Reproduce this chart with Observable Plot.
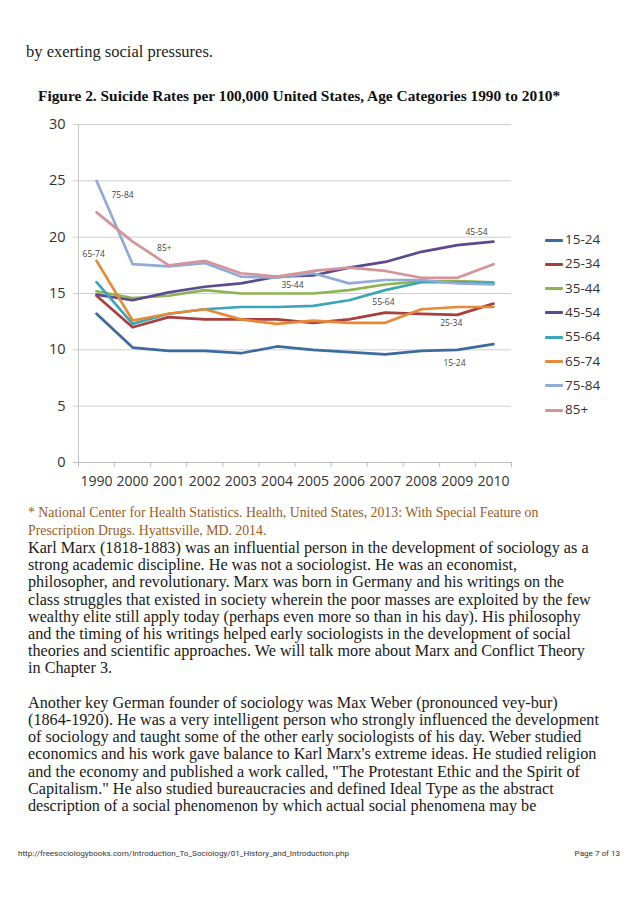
<!DOCTYPE html>
<html>
<head>
<meta charset="utf-8">
<script src="https://cdn.jsdelivr.net/npm/d3@7"></script>
<script src="https://cdn.jsdelivr.net/npm/@observablehq/plot@0.6"></script>
<style>
  html, body { margin: 0; padding: 0; background: #fff; }
  body { width: 638px; height: 903px; position: relative; overflow: hidden; }
  .serif { font-family: "Liberation Serif", "Times New Roman", serif; position: absolute; white-space: pre; color: #222; }
  .lead { left: 26px; top: 42px; font-size: 16.5px; }
  .title { left: 38px; top: 87px; font-size: 15.4px; font-weight: bold; color: #111; }
  .cap { left: 28px; font-size: 13.8px; color: #9a5c1c; }
  .body { left: 28px; font-size: 16.2px; color: #1a1a1a; }
  #chart { position: absolute; left: 30px; top: 110px; }
  #legend { position: absolute; left: 545px; top: 228px; font-family: "Open Sans", sans-serif; font-size: 13.5px; color: #333; }
  .li { position: absolute; left: 0; height: 24px; width: 80px; }
  .li span.sw { position: absolute; left: 0; top: 10.5px; width: 18px; height: 3px; border-radius: 1px; }
  .li span.tx { position: absolute; left: 20px; top: 2px; }
  .footer { position: absolute; font-family: Roboto, "Liberation Sans", sans-serif; font-size: 8.1px; color: #333; top: 848px; }
</style>
</head>
<body>
<div class="serif lead">by exerting social pressures.</div>
<div class="serif title">Figure 2. Suicide Rates per 100,000 United States, Age Categories 1990 to 2010*</div>
<div id="chart"></div>
<div id="legend"></div>
<div id="text"></div>
<div class="footer" style="left:18px">http://freesociologybooks.com/Introduction_To_Sociology/01_History_and_Introduction.php</div>
<div class="footer" style="right:18px">Page 7 of 13</div>
<script>
// ---- data ----
const years = ["1990","2000","2001","2002","2003","2004","2005","2006","2007","2008","2009","2010"];
const seriesNames = ["15-24","25-34","35-44","45-54","55-64","65-74","75-84","85+"];
const rate15_24 = [13.2, 10.2, 9.9, 9.9, 9.7, 10.3, 10.0, 9.8, 9.6, 9.9, 10.0, 10.5];
const rate25_34 = [14.8, 12.0, 12.9, 12.7, 12.7, 12.7, 12.4, 12.7, 13.3, 13.2, 13.1, 14.1];
const rate35_44 = [15.2, 14.6, 14.8, 15.3, 15.0, 15.0, 15.0, 15.3, 15.8, 16.1, 16.1, 16.0];
const rate45_54 = [14.9, 14.4, 15.1, 15.6, 15.9, 16.5, 16.6, 17.3, 17.8, 18.7, 19.3, 19.6];
const rate55_64 = [16.0, 12.3, 13.2, 13.6, 13.8, 13.8, 13.9, 14.4, 15.3, 16.0, 16.0, 15.9];
const rate65_74 = [17.9, 12.6, 13.2, 13.6, 12.7, 12.3, 12.6, 12.4, 12.4, 13.6, 13.8, 13.8];
const rate75_84 = [25.0, 17.6, 17.4, 17.7, 16.5, 16.4, 16.8, 15.9, 16.2, 16.2, 15.9, 15.8];
const rate85plus = [22.2, 19.6, 17.5, 17.9, 16.8, 16.5, 17.0, 17.3, 17.0, 16.4, 16.4, 17.6];
const colors = ["#3e6b9f","#a8403e","#8db450","#5b4a8f","#3ba5ba","#e68a38","#90abd5","#d4949a"];
const yTicks = [0, 5, 10, 15, 20, 25, 30];
// in-chart series labels (year index, rate)
const annoText = ["75-84","85+","65-74","45-54","35-44","55-64","25-34","15-24"];
const annoX = [0.72, 1.88, -0.08, 10.53, 5.43, 7.95, 9.83, 9.92];
const annoY = [23.7, 19.0, 18.45, 20.4, 15.7, 14.2, 12.4, 8.8];

const captionLines = [
  "* National Center for Health Statistics. Health, United States, 2013: With Special Feature on",
  "Prescription Drugs. Hyattsville, MD. 2014."
];
const bodyLines = [
  "Karl Marx (1818-1883) was an influential person in the development of sociology as a",
  "strong academic discipline. He was not a sociologist. He was an economist,",
  "philosopher, and revolutionary. Marx was born in Germany and his writings on the",
  "class struggles that existed in society wherein the poor masses are exploited by the few",
  "wealthy elite still apply today (perhaps even more so than in his day). His philosophy",
  "and the timing of his writings helped early sociologists in the development of social",
  "theories and scientific approaches. We will talk more about Marx and Conflict Theory",
  "in Chapter 3.",
  "",
  "Another key German founder of sociology was Max Weber (pronounced vey-bur)",
  "(1864-1920). He was a very intelligent person who strongly influenced the development",
  "of sociology and taught some of the other early sociologists of his day. Weber studied",
  "economics and his work gave balance to Karl Marx's extreme ideas. He studied religion",
  "and the economy and published a work called, \"The Protestant Ethic and the Spirit of",
  "Capitalism.\" He also studied bureaucracies and defined Ideal Type as the abstract",
  "description of a social phenomenon by which actual social phenomena may be"
];

// ---- build table ----
const allSeries = [rate15_24, rate25_34, rate35_44, rate45_54, rate55_64, rate65_74, rate75_84, rate85plus];
const rows = [];
allSeries.forEach((vals, s) => vals.forEach((v, i) => rows.push({series: seriesNames[s], i, v})));
const annos = annoText.map((t, k) => ({t, x: annoX[k], y: annoY[k]}));
const idx = years.map((_, i) => i);
const bounds = d3.range(years.length + 1).map(i => i - 0.5);

const chart = Plot.plot({
  width: 484,
  height: 382,
  marginLeft: 48,
  marginRight: 3,
  marginTop: 14,
  marginBottom: 30,
  style: {fontFamily: "'Open Sans', sans-serif", background: "transparent", overflow: "visible"},
  x: {type: "linear", domain: [-0.5, years.length - 0.5], axis: null},
  y: {domain: [0, 30], axis: null},
  color: {domain: seriesNames, range: colors},
  marks: [
    Plot.gridY(yTicks.filter(t => t > 0), {stroke: "#cfcfcf", strokeOpacity: 1, x1: -0.5, x2: years.length - 0.5, insetLeft: -5}),
    Plot.axisY(yTicks, {tickSize: 0, tickPadding: 13, fontSize: 14.5, fill: "#333", tickFormat: d => String(d)}),
    Plot.ruleX([-0.5], {stroke: "#c8c8c8"}),
    Plot.ruleY([0], {stroke: "#bdbdbd", insetLeft: -5}),
    Plot.axisX(bounds, {tickSize: 5, stroke: "#bdbdbd", tickFormat: () => ""}),
    Plot.axisX(idx, {tickSize: 0, tickPadding: 14, fontSize: 14, fill: "#333", tickFormat: i => years[i]}),
    Plot.line(rows, {x: "i", y: "v", z: "series", stroke: "series", strokeWidth: 2.7, curve: "linear"}),
    Plot.text(annos, {x: "x", y: "y", text: "t", fontSize: 8.5, fill: "#444"})
  ]
});
document.getElementById("chart").appendChild(chart);

// legend
const leg = document.getElementById("legend");
seriesNames.forEach((n, k) => {
  const d = document.createElement("div");
  d.className = "li";
  d.style.top = (k * 24.3) + "px";
  d.innerHTML = `<span class="sw" style="background:${colors[k]}"></span><span class="tx">${n}</span>`;
  leg.appendChild(d);
});

// text
const tx = document.getElementById("text");
captionLines.forEach((l, k) => {
  const d = document.createElement("div");
  d.className = "serif cap";
  d.style.top = (505 + k * 17.5) + "px";
  d.textContent = l;
  tx.appendChild(d);
});
bodyLines.forEach((l, k) => {
  const d = document.createElement("div");
  d.className = "serif body";
  d.style.top = (539 + k * 17.2) + "px";
  d.textContent = l;
  tx.appendChild(d);
});
</script>
</body>
</html>
